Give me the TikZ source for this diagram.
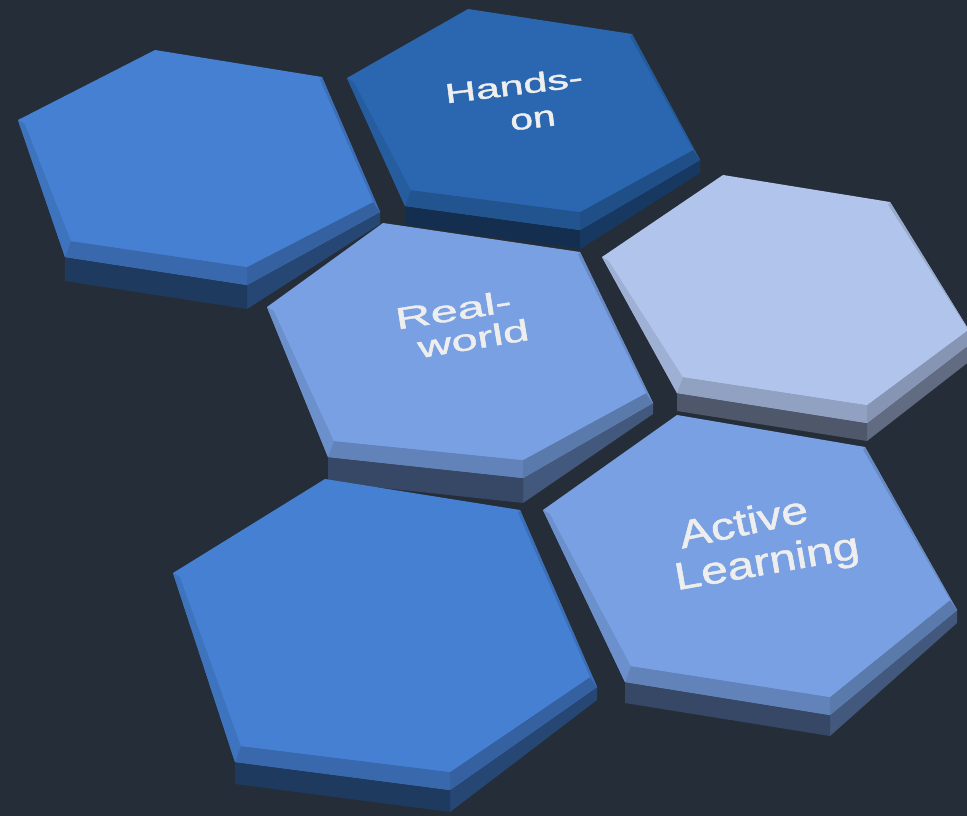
\documentclass[tikz,border=0pt]{standalone}
\usepackage{fontspec}
\setmainfont{Liberation Sans}
\newfontfamily\lblfont[FakeBold=1.2]{Liberation Sans}
\usetikzlibrary{calc}
\definecolor{bg}{HTML}{252E38}
\definecolor{cmid}{HTML}{4580D2}
\definecolor{cdark}{HTML}{2A67B0}
\definecolor{clight}{HTML}{B0C4EC}
\definecolor{csoft}{HTML}{78A0E2}
\definecolor{txtc}{HTML}{EEEEEE}

% prefix, A(top), B(upper right), C(right), D(bottom), E(bottom left), F(left), wall at C, wall at D/E
\newcommand\hexdef[9]{%
  \coordinate (#1a) at #2; \coordinate (#1b) at #3; \coordinate (#1c) at #4;
  \coordinate (#1d) at #5; \coordinate (#1e) at #6; \coordinate (#1f) at #7;
  \coordinate (#1cw) at ($(#1c)+(0,#8)$);
  \coordinate (#1dw) at ($(#1d)+(0,#9)$);
  \coordinate (#1ew) at ($(#1e)+(0,#9)$);
  \coordinate (#1ai) at ($(#1a)+(0,2)$);
  \coordinate (#1bi) at ($(#1b)+(-2,3)$);
  \coordinate (#1ci) at ($(#1c)+(-7,-10)$);
  \coordinate (#1di) at ($(#1d)+(0,-18)$);
  \coordinate (#1ei) at ($(#1e)+(6,-16)$);
  \coordinate (#1fi) at ($(#1f)+(7,4)$);
}
% prefix, colour
\newcommand\hexdraw[2]{%
  \fill[#2!55!black] (#1d) -- (#1c) -- (#1cw) -- (#1dw) -- cycle;
  \fill[#2!45!black] (#1e) -- (#1d) -- (#1dw) -- (#1ew) -- cycle;
  \fill[#2] (#1a) -- (#1b) -- (#1c) -- (#1d) -- (#1e) -- (#1f) -- cycle;
  \fill[#2!90!black] (#1f) -- (#1e) -- (#1ei) -- (#1fi) -- cycle;
  \fill[#2!82!black] (#1e) -- (#1d) -- (#1di) -- (#1ei) -- cycle;
  \fill[#2!76!black] (#1d) -- (#1c) -- (#1ci) -- (#1di) -- cycle;
  \fill[#2!87!black] (#1c) -- (#1b) -- (#1bi) -- (#1ci) -- cycle;
  \fill[#2] (#1ai) -- (#1bi) -- (#1ci) -- (#1di) -- (#1ei) -- (#1fi) -- cycle;
}

\tikzset{
  lbl/.style={text=txtc, inner sep=0pt, anchor=base},
}

\begin{document}
\begin{tikzpicture}[x=1pt,y=-1pt]
\useasboundingbox (0,0) rectangle (967,816);
\fill[bg] (0,0) rectangle (967,816);

\hexdef{h2}{(468,9)}{(632,34)}{(700,160)}{(580,230)}{(405,206)}{(347,78)}{13}{19}
\hexdef{h1}{(155,50)}{(322,77)}{(380,212)}{(247,285)}{(65,257)}{(18,120)}{12}{24}
\hexdef{h3}{(723,175)}{(890,202)}{(975,340)}{(867,423)}{(677,393)}{(602,257)}{17}{18}
\hexdef{h4}{(383,223)}{(580,252)}{(653,403)}{(523,478)}{(328,457)}{(267,307)}{11}{25}
\hexdef{h6}{(677,415)}{(865,447)}{(957,610)}{(830,715)}{(625,682)}{(543,510)}{13}{21}
\hexdef{h5}{(325,479)}{(520,510)}{(597,687)}{(450,790)}{(235,762)}{(173,573)}{13}{22}

\hexdraw{h2}{cdark}
\hexdraw{h1}{cmid}
\hexdraw{h3}{clight}
\hexdraw{h4}{csoft}
\hexdraw{h6}{csoft}
\hexdraw{h5}{cmid}

% Hands-on
\node[lbl, font=\lblfont\fontsize{43}{43}\selectfont, rotate=7, yscale=0.64] (t1) at (515,95) {Hands-};
\node[lbl, font=\lblfont\fontsize{41}{41}\selectfont, rotate=7, yscale=0.72] (t2) at (534,128) {on};
% Real-world
\node[lbl, font=\lblfont\fontsize{49}{49}\selectfont, rotate=9, yscale=0.62] (t3) at (455,320.5) {Real-};
\node[lbl, font=\lblfont\fontsize{47}{47}\selectfont, rotate=9.5, yscale=0.64] (t4) at (475,349) {world};
% Active Learning
\node[lbl, font=\lblfont\fontsize{48}{48}\selectfont, rotate=12, yscale=0.8] (t5) at (746,535) {Active};
\node[lbl, font=\lblfont\fontsize{48}{48}\selectfont, rotate=10, yscale=0.8] (t6) at (769,574) {Learning};
\end{tikzpicture}
\end{document}
